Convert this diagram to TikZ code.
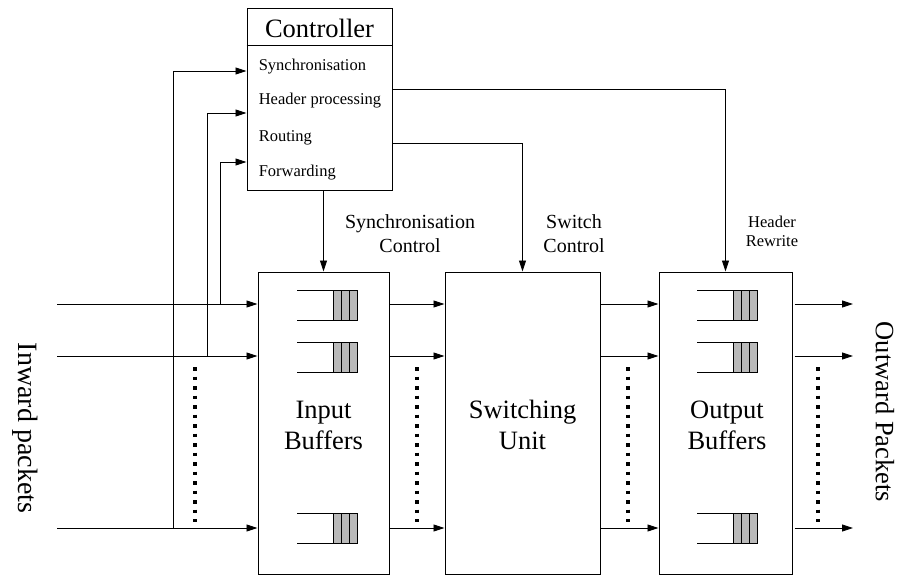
\documentclass[tikz,border=0pt]{standalone}
\usepackage{fontspec}
\setmainfont{Liberation Serif}
\usetikzlibrary{arrows.meta}

\newcommand{\bigtxt}{\fontsize{26.5}{31}\selectfont}
\newcommand{\midtxt}{\fontsize{20}{24}\selectfont}
\newcommand{\smalltxt}{\fontsize{16.5}{19}\selectfont}

\begin{document}
\begin{tikzpicture}[x=1pt,y=-1pt,line width=0.9pt,
    >={Triangle[length=11pt,width=7pt]},
    block/.style={draw,line width=1pt,inner sep=0pt},
    cell/.style={draw,fill=gray!55,line width=0.8pt},
    dots/.style={line width=3.8pt,dash pattern=on 3.8pt off 5.7pt}]
  \useasboundingbox (0,0) rectangle (897,576);

  % controller with its four tasks
  \node[block,minimum width=145pt,minimum height=182pt] (ctrl) at (319.5,99) {};
  \draw[line width=1pt] (ctrl.west |- 0,45) -- (ctrl.east |- 0,45);
  \node[anchor=base,font=\bigtxt] (ctrltitle) at (319.5,37) {Controller};
  \node[anchor=base west,font=\smalltxt] (sync) at (255,70) {Synchronisation};
  \node[anchor=base west,font=\smalltxt] (hdr) at (255,104) {Header processing};
  \node[anchor=base west,font=\smalltxt] (route) at (255,141) {Routing};
  \node[anchor=base west,font=\smalltxt] (fwd) at (255,176) {Forwarding};

  % the three stages
  \node[block,minimum width=131pt,minimum height=302pt] (inbuf) at (323.5,423) {};
  \node[block,minimum width=155pt,minimum height=302pt] (sw) at (522.5,423) {};
  \node[block,minimum width=133pt,minimum height=302pt] (outbuf) at (725.5,423) {};
  \node[font=\bigtxt,align=center] (inlbl) at (323.5,425) {Input\\Buffers};
  \node[font=\bigtxt,align=center] (swlbl) at (522.5,425) {Switching\\Unit};
  \node[font=\bigtxt,align=center] (outlbl) at (727,425) {Output\\Buffers};

  % queues, open on the left, three cells at the head
  \foreach \qx in {297,697}
    \foreach \qy in {290,342,513} {
      \draw (\qx,\qy) -- ++(60,0) -- ++(0,30) -- ++(-60,0);
      \foreach \c in {0,1,2}
        \draw[cell] (\qx+36+8*\c,\qy) rectangle ++(8,30);
    }

  % packet lines
  \coordinate (in1) at (57,304);
  \coordinate (in2) at (57,356);
  \coordinate (in3) at (57,528);
  \coordinate (out1) at (853,304);
  \coordinate (out2) at (853,356);
  \coordinate (out3) at (853,528);
  \foreach \r/\o in {in1/out1,in2/out2,in3/out3} {
    \draw[->] (\r) -- (\r -| inbuf.west);
    \draw[->] (\r -| inbuf.east) -- (\r -| sw.west);
    \draw[->] (\r -| sw.east) -- (\r -| outbuf.west);
    \draw[->] ([xshift=2pt]\r -| outbuf.east) -- (\o);
  }
  \foreach \dx in {195,417,628,818}
    \draw[dots] (\dx,367) -- (\dx,522);

  % taps from the inputs up to the controller
  \coordinate (t1) at (173,528);
  \coordinate (t2) at (207,356);
  \coordinate (t3) at (220,304);
  \draw[->] (t1) |- (ctrl.west |- 0,71);
  \draw[->] (t2) |- (ctrl.west |- 0,113);
  \draw[->] (t3) |- (ctrl.west |- 0,162);

  % control lines from the controller
  \draw[->] (ctrl.south -| inbuf.north) -- (inbuf.north);
  \draw[->] (ctrl.east |- 0,143) -| (sw.north);
  \draw[->] (ctrl.east |- 0,89) -| (outbuf.north);
  \node[font=\midtxt,align=center] (synclbl) at (410,234) {Synchronisation\\Control};
  \node[font=\midtxt,align=center] (swctl) at (574,234) {Switch\\Control};
  \node[font=\smalltxt,align=center] (hdrlbl) at (772,231) {Header\\Rewrite};

  % side labels
  \node[font=\fontsize{28}{32}\selectfont,rotate=-90] (inward) at (25,428) {Inward packets};
  \node[font=\bigtxt,rotate=-90] (outward) at (885,412) {Outward Packets};
\end{tikzpicture}
\end{document}
